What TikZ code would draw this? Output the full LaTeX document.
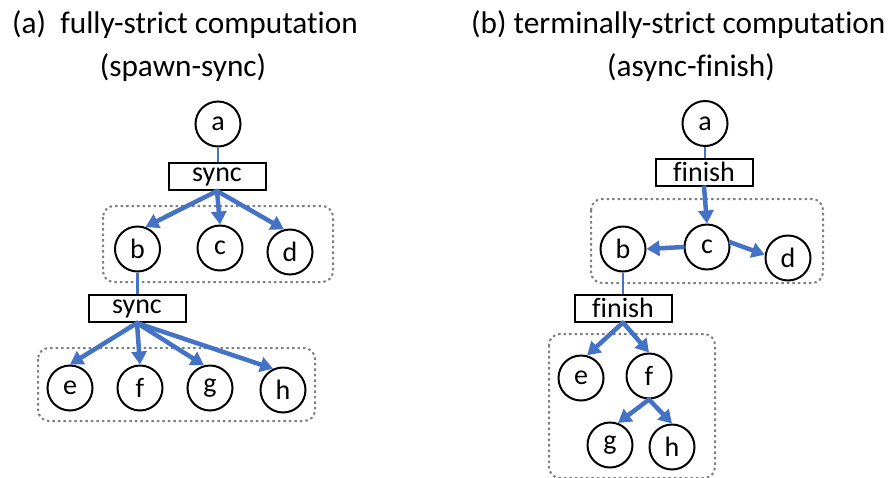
\documentclass[tikz,border=0pt]{standalone}
\usepackage{fontspec}
\setmainfont{Carlito}[Ligatures=NoCommon]
\usetikzlibrary{arrows.meta}
\definecolor{edgeblue}{HTML}{4472C4}
\definecolor{groupgray}{HTML}{7F7F7F}
\tikzset{
  task/.style={circle, draw=black, line width=2pt, minimum size=45pt, inner sep=0pt, font=\fontsize{28}{32}\selectfont},
  joinbox/.style={rectangle, draw=black, line width=2pt, minimum width=97pt, minimum height=27pt, inner sep=0pt, font=\fontsize{28}{32}\selectfont},
  title/.style={font=\fontsize{31.3}{38}\selectfont, inner sep=0pt},
  link/.style={draw=edgeblue, line width=2.5pt},
  spawn/.style={draw=edgeblue, line width=4.5pt, -{Triangle[length=13pt, width=15pt]}, shorten <=-1pt},
  group/.style={draw=groupgray, line width=2pt, dash pattern=on 2.5pt off 3pt, rounded corners=11pt},
}
\begin{document}
\begin{tikzpicture}[x=1pt, y=-1pt]
\useasboundingbox (0,0) rectangle (894,477);

% headings
\node[title, anchor=base west] (ta1) at (12,33) {(a)\ \ fully-strict computation};
\node[title, anchor=base] (ta2) at (183,76) {(spawn-sync)};
\node[title, anchor=base west] (tb1) at (471,33) {(b) terminally-strict computation};
\node[title, anchor=base] (tb2) at (691,76) {(async-finish)};

% ---------- (a) spawn-sync ----------
\draw[group] (103,206) rectangle (333,282);
\draw[group] (38,348) rectangle (315,421);

\node[task] (a1) at (218,124) {a};
\node[joinbox] (s1) at (217,176.5) {sync};
\node[task] (b1) at (137.5,249) {b};
\node[task] (c1) at (220,248) {c};
\node[task] (d1) at (290,252) {d};
\node[joinbox] (s2) at (137,308.5) {sync};
\node[task] (e1) at (70,388) {e};
\node[task] (f1) at (140,388) {f};
\node[task] (g1) at (210,388) {g};
\node[task] (h1) at (283,390) {h};

\draw[link] (a1.south) -- (a1.south |- s1.north);
\draw[link] (b1.south) -- (b1.south |- s2.north);
\draw[spawn] (s1.south) -- (b1.70);
\draw[spawn] (s1.south) -- (c1.north);
\draw[spawn] (s1.south) -- (d1.105);
\draw[spawn] (s2.south) -- (e1.north);
\draw[spawn] (s2.south) -- (f1.north);
\draw[spawn] (s2.south) -- (g1.105);
\draw[spawn] (s2.south) -- (h1.115);

% ---------- (b) async-finish ----------
\draw[group] (591,199) rectangle (823,283);
\draw[group] (549,334) rectangle (715,478);

\node[task] (a2) at (705,123.5) {a};
\node[joinbox] (f2) at (704,172) {finish};
\node[task] (c2) at (707,247) {c};
\node[task] (b2) at (623,249) {b};
\node[task] (d2) at (788,258) {d};
\node[joinbox] (f3) at (623,308) {finish};
\node[task] (e2) at (581,378) {e};
\node[task] (ff2) at (649,376) {f};
\node[task] (g2) at (610,445) {g};
\node[task] (h2) at (672,447) {h};

\draw[link] (a2.south) -- (a2.south |- f2.north);
\draw[link] (b2.south) -- (b2.south |- f3.north);
\draw[spawn] (f2.south) -- (c2.north);
\draw[spawn] (c2.west) -- (b2.east);
\draw[spawn] (c2.12) -- (d2.172);
\draw[spawn] (f3.south) -- (e2.75);
\draw[spawn] (f3.south) -- (ff2.north);
\draw[spawn] (ff2.south) -- (g2.70);
\draw[spawn] (ff2.south) -- (h2.north);
\end{tikzpicture}
\end{document}
